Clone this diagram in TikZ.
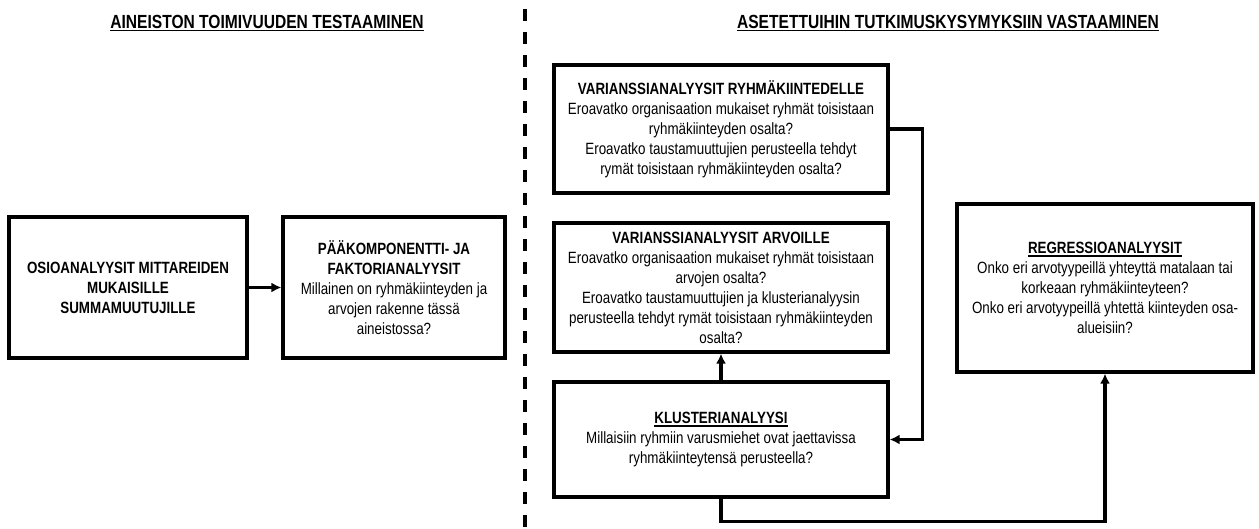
\documentclass[tikz,border=0pt]{standalone}
\usepackage{fontspec}
\setmainfont{Liberation Sans}[FakeStretch=0.82]
\usetikzlibrary{arrows.meta}
\newsavebox\ulbox
\newcommand\myul[1]{\sbox\ulbox{#1}\rlap{\usebox\ulbox}\rule[-3pt]{\wd\ulbox}{1.4pt}}
\tikzset{
  box/.style={draw, line width=3.2pt, align=center, inner sep=0pt,
    font=\fontsize{16.3}{20}\selectfont},
  conn/.style={line width=3.2pt, -{Latex[length=10pt,width=10pt]}},
  headline/.style={inner sep=0pt, font=\fontsize{19}{22}\selectfont\bfseries},
  sep/.style={line width=3.2pt, dash pattern=on 12pt off 11pt}
}
\begin{document}
\begin{tikzpicture}[x=1pt,y=-1pt]
\useasboundingbox (0,0) rectangle (1259,529);
% headings
\node[headline] (h1) at (267,23) {\myul{AINEISTON TOIMIVUUDEN TESTAAMINEN}};
\node[headline] (h2) at (948,23) {\myul{ASETETTUIHIN TUTKIMUSKYSYMYKSIIN VASTAAMINEN}};
% separator
\coordinate (s1) at (525,9);
\coordinate (s2) at (525,529);
\draw[sep] (s1) -- (s2);
% boxes
\node[box, minimum width=238pt, minimum height=141pt] (A) at (128,287.5)
  {\bfseries OSIOANALYYSIT MITTAREIDEN\\\bfseries MUKAISILLE\\\bfseries SUMMAMUUTUJILLE};
\node[box, minimum width=222pt, minimum height=141pt] (B) at (394,287.5)
  {\bfseries PÄÄKOMPONENTTI- JA\\\bfseries FAKTORIANALYYSIT\\Millainen on ryhmäkiinteyden ja\\arvojen rakenne tässä\\aineistossa?};
\node[box, minimum width=334pt, minimum height=128pt] (C) at (721,129)
  {\bfseries VARIANSSIANALYYSIT RYHMÄKIINTEDELLE\\Eroavatko organisaation mukaiset ryhmät toisistaan\\ryhmäkiinteyden osalta?\\Eroavatko taustamuuttujien perusteella tehdyt\\rymät toisistaan ryhmäkiinteyden osalta?};
\node[box, minimum width=334pt, minimum height=129pt] (D) at (721,287.5)
  {\bfseries VARIANSSIANALYYSIT ARVOILLE\\Eroavatko organisaation mukaiset ryhmät toisistaan\\arvojen osalta?\\Eroavatko taustamuuttujien ja klusterianalyysin\\perusteella tehdyt rymät toisistaan ryhmäkiinteyden\\osalta?};
\node[box, minimum width=334pt, minimum height=115pt] (E) at (721,439.5)
  {\bfseries\myul{KLUSTERIANALYYSI}\\Millaisiin ryhmiin varusmiehet ovat jaettavissa\\ryhmäkiinteytensä perusteella?};
\node[box, minimum width=296pt, minimum height=168pt] (F) at (1105,288)
  {\bfseries\myul{REGRESSIOANALYYSIT}\\Onko eri arvotyypeillä yhteyttä matalaan tai\\korkeaan ryhmäkiinteyteen?\\Onko eri arvotyypeillä yhtettä kiinteyden osa-\\alueisiin?};
% connectors
\draw[conn] (A.east) -- (B.west);
\draw[conn] (E.north) -- (D.south);
\draw[conn] (C.east) -- ++(33,0) |- (E.east);
\draw[conn] (E.south) -- ++(0,23) -| (F.south);
\end{tikzpicture}
\end{document}
